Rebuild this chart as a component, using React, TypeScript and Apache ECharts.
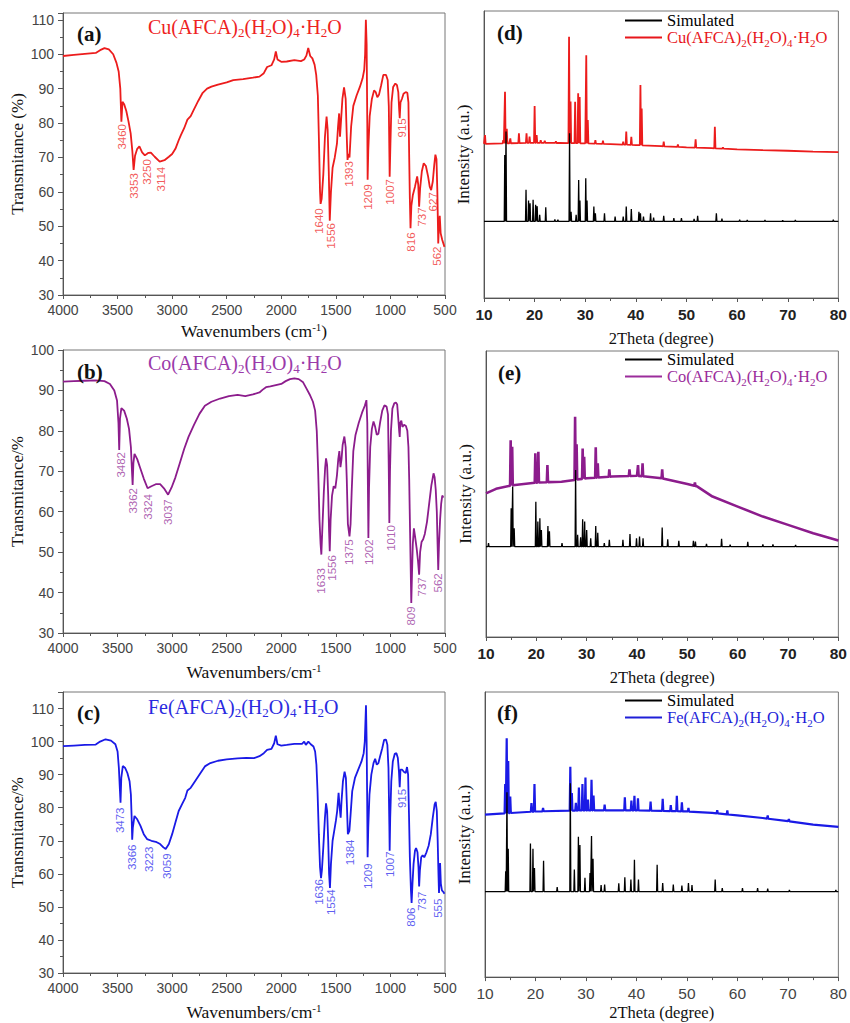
import React, { useEffect, useRef } from 'react';
import * as echarts from 'echarts';

// ---------------- IR spectra: [wavenumber, transmittance] ----------------
const cuIR: number[][] = [[4000,99.5],[3900,99.8],[3800,100.1],[3700,100.4],[3660,101.2],[3620,101.8],[3580,101.4],[3540,100],[3510,97.5],[3490,95],[3475,90],[3465,80.4],[3455,86.2],[3440,85.5],[3420,83.5],[3400,80.5],[3380,77],[3365,72],[3353,66.4],[3340,70.5],[3320,72.5],[3300,73.2],[3275,71.5],[3250,70.6],[3220,71.3],[3195,71.4],[3160,70.2],[3114,68.8],[3070,69.2],[3030,70.2],[3000,71],[2970,72.5],[2940,75],[2920,76.5],[2890,78.5],[2860,81],[2830,82],[2800,84],[2760,86.5],[2720,88.8],[2680,90],[2640,90.6],[2580,91.2],[2500,91.8],[2440,92.5],[2350,92.8],[2260,93.2],[2200,93.5],[2160,94.5],[2130,96.3],[2090,96.8],[2065,98.5],[2050,100.8],[2035,98.5],[2000,97.8],[1950,97.9],[1880,98.3],[1820,98],[1790,98.5],[1770,99.6],[1753,101.8],[1735,99.5],[1715,98.8],[1695,97],[1680,94],[1665,88],[1655,75],[1645,60],[1640,56.5],[1630,58],[1615,65],[1600,76],[1585,81.9],[1575,78],[1565,66],[1556,51.6],[1545,60],[1530,67],[1510,70],[1490,74],[1480,79],[1470,82.8],[1462,76],[1452,81],[1440,87],[1425,90.4],[1410,87],[1400,76],[1393,69.3],[1385,71],[1375,70],[1360,79],[1340,85],[1310,88],[1280,90.5],[1255,93],[1240,95.5],[1232,100],[1225,110],[1218,103],[1212,80],[1209,63.5],[1203,72],[1190,82],[1170,87],[1150,89.5],[1135,89],[1120,87.5],[1105,88.2],[1085,91],[1065,94],[1040,94],[1025,92.5],[1015,85],[1007,64.4],[1000,74],[990,86],[975,90.5],[955,91.5],[940,91],[928,89],[920,84],[915,81.4],[908,86],[895,87],[880,88.5],[860,89],[845,88.8],[835,86],[828,70],[822,58],[816,49.4],[808,56],[795,59],[775,61.5],[755,64.5],[745,62],[737,55.7],[728,61],[712,66],[695,68.3],[675,67.5],[655,64.5],[640,61.5],[627,60.5],[612,63],[598,68],[588,70.8],[578,69.5],[570,60],[562,45],[556,50],[548,53],[540,48],[525,46],[510,44.5],[505,44]];

const coIR: number[][] = [[4000,92.2],[3900,92.3],[3800,92.4],[3700,92.5],[3620,92.3],[3570,91.6],[3530,90],[3505,87.5],[3492,82],[3485,75.3],[3478,83],[3465,85.6],[3440,85],[3415,83],[3395,80.5],[3378,76],[3368,70],[3362,66.6],[3355,72],[3345,74.3],[3320,73],[3295,71],[3260,68.2],[3225,65.8],[3190,66.3],[3150,66.8],[3110,66.8],[3075,65.8],[3037,64.2],[3005,66],[2970,68.5],[2930,72],[2890,75.5],[2850,78.5],[2800,81.5],[2750,84.2],[2700,86.2],[2640,87.2],[2560,88],[2480,88.6],[2400,88.9],[2330,88.6],[2260,89],[2200,89.5],[2170,90.2],[2140,90.8],[2100,91],[2050,91.3],[2000,91.6],[1960,92.3],[1920,92.8],[1880,93],[1840,92.8],[1800,92],[1770,90.5],[1740,89],[1710,87.2],[1690,85],[1675,80],[1662,70],[1650,58],[1640,52],[1633,49.4],[1625,55],[1610,65],[1598,71],[1590,73.2],[1580,71.5],[1570,64],[1562,55],[1556,50.2],[1548,58],[1535,64],[1520,66.3],[1505,65.8],[1490,69],[1478,73],[1468,75],[1458,71],[1448,73],[1438,76.5],[1422,78.6],[1410,76],[1400,68],[1390,57],[1375,53.9],[1365,57],[1355,65],[1340,75],[1320,79],[1290,82],[1260,84.5],[1235,86.2],[1220,87.6],[1212,82],[1206,65],[1202,53.5],[1196,66],[1185,76],[1170,80.5],[1155,82.3],[1140,81],[1125,79],[1110,79.3],[1095,82],[1075,85],[1055,86.3],[1035,86],[1022,84],[1015,70],[1010,57.2],[1004,70],[995,80],[982,85.5],[965,86.8],[950,87],[938,86.5],[928,83],[920,80],[915,78.5],[910,82],[900,82.5],[890,81],[875,81.5],[858,81.2],[845,80],[835,76],[828,68],[820,55],[809,37.4],[802,45],[795,52],[785,55.9],[775,54],[760,51],[748,48],[737,44.4],[728,50],[715,52.5],[700,53.2],[685,54.5],[665,57.5],[645,62],[625,66.5],[605,69.5],[595,68.5],[585,65.5],[575,60],[568,52],[562,45.6],[555,52],[545,58],[535,62],[525,64],[515,63.5]];

const feIR: number[][] = [[4000,98.6],[3900,98.8],[3800,99],[3700,99.1],[3660,100],[3610,100.7],[3560,100.3],[3520,99.2],[3500,97],[3488,92],[3478,85],[3473,81.5],[3466,89],[3452,92.6],[3430,92],[3410,90.5],[3390,88],[3378,84],[3370,76],[3366,70.3],[3360,74],[3345,77.5],[3320,76.5],[3290,74.5],[3260,72],[3230,70.5],[3190,70],[3150,69.7],[3110,69],[3080,68],[3059,67.5],[3030,69],[3000,72],[2970,75.5],[2940,79],[2910,81],[2880,83],[2860,85.2],[2830,86],[2790,88],[2740,90.5],[2700,92.5],[2650,93.5],[2580,94.2],[2500,94.6],[2400,94.9],[2320,95.1],[2250,95],[2200,95.6],[2160,96.5],[2130,97.5],[2090,97.8],[2065,99.5],[2050,101.8],[2035,99.2],[2000,98.8],[1950,99],[1880,99.3],[1810,99.3],[1790,100],[1775,99],[1752,100],[1730,99.2],[1705,98.5],[1690,97],[1678,93],[1668,85],[1656,72],[1645,62],[1636,58.7],[1628,61],[1615,68],[1600,77],[1590,81.3],[1580,79],[1570,70],[1562,60],[1554,55.7],[1545,63],[1530,70],[1515,73],[1500,76],[1488,79],[1475,84.5],[1465,80],[1456,77],[1448,82],[1435,88],[1420,90.9],[1408,89],[1398,80],[1390,72],[1384,72],[1376,73],[1365,78],[1350,85],[1325,89],[1295,91.5],[1265,94],[1245,96.5],[1235,100],[1228,107],[1224,111],[1218,100],[1213,82],[1209,65],[1203,74],[1192,84],[1175,90],[1155,93.5],[1140,94.8],[1125,93],[1110,93.5],[1095,95.5],[1075,98],[1058,100.5],[1040,100.6],[1028,99],[1018,92],[1010,75],[1007,67],[1002,77],[992,88],[978,94],[960,96.3],[945,96.5],[932,95],[922,91],[915,86.2],[908,91.5],[892,91.5],[875,90.8],[860,90.5],[848,92.3],[838,90],[830,78],[822,65],[812,55],[806,51.2],[798,57],[788,63],[775,67],[765,67.8],[752,66.5],[743,62],[737,56.2],[730,61],[718,65],[705,65.6],[690,65],[670,66.5],[650,68.5],[630,72],[612,77],[595,81],[585,81.8],[575,79],[567,70],[560,60],[555,54.2],[550,58],[545,63.3],[538,57],[528,55],[515,54.5],[505,54]];

// peak annotations: [x position, y position, text]
const cuLabels: (number | string)[][] = [[3459,76.0,'3460'],[3350,61.7,'3353'],[3230,65.8,'3250'],[3102,63.7,'3114'],[1654,51.5,'1640'],[1544,47.2,'1556'],[1380,65.2,'1393'],[1206,58.5,'1209'],[1004,60.0,'1007'],[894,78.6,'915'],[811,45.4,'816'],[711,52.7,'737'],[610,57.1,'627'],[573,41.3,'562']];
const coLabels: (number | string)[][] = [[3469,71.6,'3482'],[3359,62.7,'3362'],[3221,61.2,'3324'],[3038,59.9,'3037'],[1636,42.9,'1633'],[1535,46.1,'1556'],[1380,50.0,'1375'],[1196,50.0,'1202'],[995,53.5,'1010'],[812,34.2,'809'],[711,41.4,'737'],[564,42.4,'562']];
const feLabels: (number | string)[][] = [[3478,76.2,'3473'],[3368,65.0,'3366'],[3212,64.4,'3223'],[3047,62.3,'3059'],[1654,54.5,'1636'],[1545,51.4,'1554'],[1371,66.5,'1384'],[1206,59.3,'1209'],[1004,62.9,'1007'],[894,82.8,'915'],[812,46.9,'806'],[711,51.7,'737'],[564,49.6,'555']];

// ---------------- XRD patterns ----------------
const simDBase: number[][] = [[10,26.7],[80,26.7]];
const simDPeaks: number[][] = [[14.1,49.8],[14.35,58],[18.3,37.7],[18.8,34],[19.1,33],[19.7,34.2],[20.2,32.5],[20.5,32],[21.0,29],[22.2,31.6],[24.0,27.4],[24.6,27.3],[26.9,57.4],[27.2,30],[28.2,29],[28.7,41.1],[28.95,34],[30.1,41.7],[30.35,34],[31.7,31.9],[32.0,29.5],[33.8,29.5],[35.9,28.4],[37.5,28.4],[38.1,31.9],[39.1,31],[40.6,30],[40.9,29.5],[41.5,28.4],[42.9,29.5],[43.5,28],[45.5,28.6],[47.5,27.8],[49.0,27.8],[51.5,27.6],[52.2,28.6],[55.9,29.5],[57.0,27.7],[60.5,27.3],[62,27.2],[65.5,27.2],[69,27.1],[71.5,27.2],[79,27.3]];
const expDBase: number[][] = [[10,53.7],[15,53.9],[20,54.1],[25,54],[30,53.9],[35,53.6],[40,53.3],[45,52.9],[50,52.5],[55,52.2],[60,51.8],[65,51.5],[70,51.3],[75,51],[80,50.8]];
const expDPeaks: number[][] = [[10.2,56.8],[13.8,55],[14.15,71.9],[14.5,59],[15.2,55.6],[16.9,57.4],[18.4,57.4],[19.0,56.2],[20.0,66.9],[20.4,56.8],[21.2,55],[22.0,54.8],[24.2,54.6],[26.8,91],[27.1,68.5],[28.0,68.4],[28.6,71.3],[28.9,70],[30.2,84.6],[30.5,62],[32.0,55],[33.5,54.8],[37.5,54.5],[38.1,58],[39.1,56.2],[40.9,74.2],[41.15,66],[45.5,54.5],[48.3,53.5],[51.8,55.3],[55.6,59.7],[57.2,52.5]];

const simEBase: number[][] = [[10,31.6],[80,31.6]];
const simEPeaks: number[][] = [[10.5,32.8],[15.0,45],[15.3,52.6],[15.6,38],[19.9,47.3],[20.3,40.4],[20.7,41.5],[21.0,37.4],[22.3,38.8],[22.6,37],[25.1,32.8],[27.8,58.4],[28.2,35.7],[28.8,34.9],[29.2,41.2],[29.6,40.4],[30.0,37.4],[30.8,34.5],[31.8,38.8],[32.2,36.4],[33.5,32.8],[34.5,34],[37.2,34],[38.6,36],[39.9,34.5],[40.5,35.1],[41.2,34.5],[45.0,38.3],[46.1,34.2],[48.3,33.6],[51.2,33.6],[51.6,33.4],[53.8,32.6],[56.8,34.3],[58.5,32.3],[62.0,33.3],[65,32.4],[67,32.4],[71.5,32.2]];
const expEBase: number[][] = [[10,50.2],[12,51.8],[15,53],[20,54],[25,54.3],[30,55.5],[35,56.1],[40,56.4],[45,55.5],[50,53.5],[52,52.6],[55,49.1],[60,45.6],[65,42.1],[70,39.2],[75,36.3],[80,33.7]];
const expEPeaks: number[][] = [[14.9,68.8],[15.2,66.5],[19.8,64.2],[20.4,64.8],[22.2,60.1],[27.7,77],[28.0,67.4],[29.2,65.9],[29.5,63],[31.8,66.3],[32.2,60.7],[34.5,58.6],[38.5,58.6],[40.2,60.1],[41.1,60.7],[45,58.6],[51.5,54]];

const simFBase: number[][] = [[10,30],[80,30]];
const simFPeaks: number[][] = [[14.1,37.1],[14.35,64.8],[14.6,45],[19.0,46.9],[19.5,45],[19.8,38.3],[21.6,40.8],[24.3,31.6],[26.9,68],[27.7,37.7],[28.5,49.2],[28.8,46.3],[29.8,34.8],[30.8,36.5],[31.1,49.5],[31.4,41.5],[33.0,32.3],[33.7,32.5],[36.5,32.9],[37.7,35],[38.9,34.2],[39.6,41.2],[40.4,34.2],[44.1,39.4],[45.2,33],[47.3,32.5],[49.0,32.1],[50.3,33],[51.0,32.3],[55.6,34.2],[57.0,31.2],[61.0,31.2],[64,31.2],[66,31],[70.3,30.6],[79.5,30.6]];
const expFBase: number[][] = [[10,57],[20,58.1],[30,58.5],[40,58.5],[50,58.1],[55,57.6],[60,56.7],[65,55.8],[70,54.7],[75,53.5],[80,52.7]];
const expFPeaks: number[][] = [[14.0,67.7],[14.3,83.8],[14.6,75.8],[15.0,63.3],[19.2,61],[19.8,67.7],[21.5,59.3],[26.9,73.8],[27.2,64.6],[28.0,61.1],[28.6,66.5],[29.3,67.7],[29.9,70],[30.4,62.3],[31.1,69.2],[31.5,63.7],[33.7,60.5],[37.7,63.1],[39.0,61.9],[39.6,63.6],[40.3,62.7],[42.8,61.6],[45.2,62.5],[46.8,60.3],[48.0,63.6],[49.0,61.3],[50.3,59.3],[56,58.5],[58,58.5],[66,56.7],[70.2,55.4]];

const irTicks = { min: 500, max: 4000, interval: 500 };
const xrdTicks = { min: 10, max: 80, interval: 10 };

function baseAt(base: number[][], x: number): number {
  for (let i = 0; i < base.length - 1; i++) {
    const [x0, y0] = base[i];
    const [x1, y1] = base[i + 1];
    if (x >= x0 && x <= x1) return y0 + ((y1 - y0) * (x - x0)) / (x1 - x0);
  }
  return base[base.length - 1][1];
}

function buildPattern(base: number[][], peaks: number[][], hw: number): number[][] {
  const pts: number[][] = base.map((p) => [p[0], p[1]]);
  peaks.forEach(([x, h]) => {
    pts.push([x - hw, baseAt(base, x - hw)], [x, h], [x + hw, baseAt(base, x + hw)]);
  });
  pts.sort((a, b) => a[0] - b[0]);
  return pts;
}

const SERIF = "'Liberation Serif', 'Times New Roman', serif";
const SANS = "'Liberation Sans', Arial, sans-serif";

const RED = '#ec1c1c';
const PURPLE = '#8c1c8c';
const BLUE = '#1a1ae6';

const formula = (metal: string) =>
  `{n|${metal}(AFCA)}{s|2}{n|(H}{s|2}{n|O)}{s|4}{n|·H}{s|2}{n|O}`;

const richFormula = (size: number, sub: number, color: string, lh: number) => ({
  n: { fontFamily: SERIF, fontSize: size, fontWeight: 'normal', color, lineHeight: lh },
  s: { fontFamily: SERIF, fontSize: sub, fontWeight: 'normal', color, padding: [Math.round(size * 0.45), 0, 0, 0], verticalAlign: 'bottom' },
});

const axisNameRich = {
  n: { fontFamily: SERIF, fontSize: 17.5, color: '#111', lineHeight: 20 },
  p: { fontFamily: SERIF, fontSize: 11, color: '#111', verticalAlign: 'top', lineHeight: 11 },
};

function irX(grid: number, name: string, gap: number) {
  return {
    type: 'value', gridIndex: grid, inverse: true, ...irTicks,
    name, nameLocation: 'middle', nameGap: gap,
    nameTextStyle: { rich: axisNameRich },
    axisLine: { show: true, lineStyle: { color: '#555', width: 1 } },
    axisTick: { show: true, inside: false, length: 4, lineStyle: { color: '#555' } },
    minorTick: { show: true, splitNumber: 2, length: 3, lineStyle: { color: '#555' } },
    axisLabel: { fontFamily: SANS, fontSize: 14, color: '#444', margin: 8, formatter: (v: number) => String(v) },
    splitLine: { show: false },
  };
}

function irY(grid: number, min: number, max: number, name: string) {
  return {
    type: 'value', gridIndex: grid, min, max, interval: 10,
    name, nameLocation: 'middle', nameGap: 35,
    nameTextStyle: { fontFamily: SERIF, fontSize: 17, color: '#111', lineHeight: 18 },
    axisLine: { show: true, lineStyle: { color: '#555', width: 1 } },
    axisTick: { show: true, inside: false, length: 5, lineStyle: { color: '#555' } },
    minorTick: { show: true, splitNumber: 2, length: 3, lineStyle: { color: '#555' } },
    axisLabel: {
      fontFamily: SANS, fontSize: 14, color: '#444', margin: 9,
      formatter: (v: number) => (v % 10 === 0 ? String(v) : ''),
    },
    splitLine: { show: false },
  };
}

function xrdX(grid: number, gap: number, bold: boolean) {
  return {
    type: 'value', gridIndex: grid, ...xrdTicks,
    name: '2Theta (degree)', nameLocation: 'middle', nameGap: gap,
    nameTextStyle: { fontFamily: SERIF, fontSize: 16.5, color: '#111', lineHeight: 20 },
    axisLine: { show: true, lineStyle: { color: '#555', width: 1 } },
    axisTick: { show: true, inside: false, length: 4, lineStyle: { color: '#555' } },
    minorTick: { show: true, splitNumber: 2, length: 3, lineStyle: { color: '#555' } },
    axisLabel: { fontFamily: SANS, fontSize: 15.5, fontWeight: bold ? 'bold' : 'normal', color: bold ? '#222' : '#444', margin: 8 },
    splitLine: { show: false },
  };
}

function xrdY(grid: number) {
  return {
    type: 'value', gridIndex: grid, min: 0, max: 100,
    name: 'Intensity (a.u.)', nameLocation: 'middle', nameGap: 12,
    nameTextStyle: { fontFamily: SERIF, fontSize: 17, color: '#111', lineHeight: 18 },
    axisLine: { show: true, lineStyle: { color: '#555', width: 1 } },
    axisTick: { show: false },
    axisLabel: { show: false },
    splitLine: { show: false },
  };
}

const gridBox = { show: true, borderColor: '#777', borderWidth: 1, containLabel: false };

function lineSeries(name: string, idx: number, data: number[][], color: string, width: number, z = 3) {
  return {
    name, type: 'line', xAxisIndex: idx, yAxisIndex: idx, data,
    symbol: 'none', showSymbol: false, silent: true, z,
    lineStyle: { color, width }, itemStyle: { color },
  };
}

function labelSeries(idx: number, data: (number | string)[][], color: string) {
  return {
    type: 'scatter', xAxisIndex: idx, yAxisIndex: idx, data,
    symbol: 'circle', symbolSize: 1, silent: true, z: 5,
    itemStyle: { color: 'rgba(0,0,0,0)' },
    label: {
      show: true, position: 'inside', rotate: 90,
      formatter: (p: any) => p.value[2],
      fontFamily: SANS, fontSize: 11.5, color,
    },
  };
}

function legendFor(names: string[], top: number, color: string, metal: string) {
  return {
    orient: 'vertical', left: 625, top, padding: 0, itemGap: 0,
    itemWidth: 37, itemHeight: 2, icon: 'rect',
    data: [
      { name: names[0], textStyle: { color: '#000' }, itemStyle: { color: '#000' } },
      { name: names[1], textStyle: { color }, itemStyle: { color } },
    ],
    formatter: (n: string) => (n.startsWith('Simulated') ? '{n|Simulated}' : formula(metal)),
    textStyle: { rich: { ...richFormula(16.5, 11, color, 21), n: { fontFamily: SERIF, fontSize: 16.5, lineHeight: 21 } } },
    selectedMode: false,
  };
}

const CU = 'Cu(AFCA)2(H2O)4·H2O';
const CO = 'Co(AFCA)2(H2O)4·H2O';
const FE = 'Fe(AFCA)2(H2O)4·H2O';

function buildOption() {
  const letter = (t: string, left: number, top: number) => ({
    text: t, left, top, padding: 0,
    textStyle: { fontFamily: SERIF, fontSize: 21, fontWeight: 'bold', color: '#111' },
  });
  const title = (metal: string, left: number, top: number, color: string) => ({
    text: formula(metal), left, top, padding: 0,
    textStyle: { fontWeight: 'normal', rich: richFormula(20, 13, color, 24) },
  });

  return {
    animation: false,
    backgroundColor: '#ffffff',
    grid: [
      { ...gridBox, left: 63, top: 13, width: 382, height: 282 },
      { ...gridBox, left: 63, top: 350, width: 382, height: 283 },
      { ...gridBox, left: 63, top: 692, width: 382, height: 281 },
      { ...gridBox, left: 484, top: 11, width: 358, height: 287 },
      { ...gridBox, left: 486, top: 351, width: 356, height: 286 },
      { ...gridBox, left: 485, top: 692, width: 357, height: 289 },
    ],
    xAxis: [
      irX(0, '{n|Wavenumbers (cm}{p|-1}{n|)}', 26),
      irX(1, '{n|Wavenumbers/cm}{p|-1}', 29),
      irX(2, '{n|Wavenumbers/cm}{p|-1}', 29),
      xrdX(3, 30, true),
      xrdX(4, 30, true),
      xrdX(5, 24, false),
    ],
    yAxis: [
      irY(0, 30, 112, 'Transmitance (%)'),
      irY(1, 30, 100, 'Transmitance/%'),
      irY(2, 30, 115, 'Transmitance/%'),
      xrdY(3),
      xrdY(4),
      xrdY(5),
    ],
    title: [
      letter('(a)', 77, 23), title('Cu', 148, 15, '#ee2222'),
      letter('(b)', 77, 361), title('Co', 148, 351, '#9b3aaa'),
      letter('(c)', 77, 702), title('Fe', 148, 695, '#2a2ae0'),
      letter('(d)', 497, 22),
      letter('(e)', 498, 362),
      letter('(f)', 497, 702),
    ],
    legend: [
      legendFor(['Simulated (d)', CU], 12, '#e8161b', 'Cu'),
      legendFor(['Simulated (e)', CO], 351, '#9b2c9b', 'Co'),
      legendFor(['Simulated (f)', FE], 692, '#1f1fd8', 'Fe'),
    ],
    series: [
      lineSeries('Cu IR', 0, cuIR, RED, 1.8),
      labelSeries(0, cuLabels, '#ef3030'),
      lineSeries('Co IR', 1, coIR, PURPLE, 1.8),
      labelSeries(1, coLabels, '#9a3a9e'),
      lineSeries('Fe IR', 2, feIR, BLUE, 1.8),
      labelSeries(2, feLabels, '#3434ee'),
      lineSeries(CU, 3, buildPattern(expDBase, expDPeaks, 0.12), RED, 1.8, 3),
      lineSeries('Simulated (d)', 3, buildPattern(simDBase, simDPeaks, 0.1), '#000000', 1.3, 4),
      lineSeries(CO, 4, buildPattern(expEBase, expEPeaks, 0.12), PURPLE, 2.6, 3),
      lineSeries('Simulated (e)', 4, buildPattern(simEBase, simEPeaks, 0.1), '#000000', 1.3, 4),
      lineSeries(FE, 5, buildPattern(expFBase, expFPeaks, 0.12), BLUE, 2.2, 3),
      lineSeries('Simulated (f)', 5, buildPattern(simFBase, simFPeaks, 0.1), '#000000', 1.3, 4),
    ],
  };
}

export default function App() {
  const ref = useRef<HTMLDivElement>(null);
  useEffect(() => {
    if (!ref.current) return;
    const chart = echarts.init(ref.current, undefined, { renderer: 'svg' });
    chart.setOption(buildOption() as any);
    return () => chart.dispose();
  }, []);
  return (
    <div
      ref={ref}
      style={{ position: 'absolute', left: 0, top: 0, width: 850, height: 1023, background: '#fff' }}
    />
  );
}
